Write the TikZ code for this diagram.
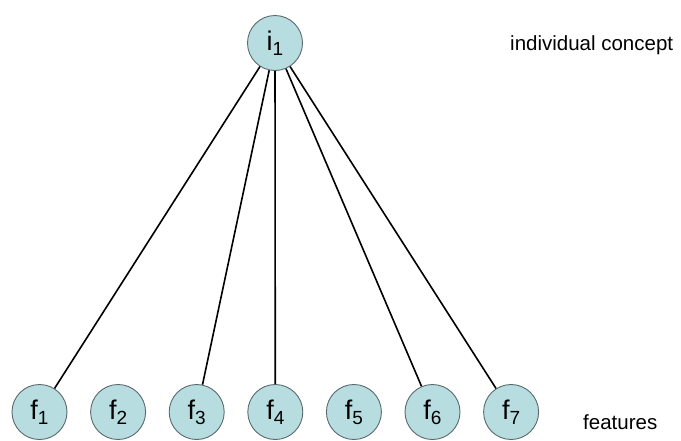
\documentclass[tikz,border=0pt]{standalone}
\usepackage{fontspec}
\setmainfont{Liberation Sans}
\definecolor{nodefill}{RGB}{183,221,224}
\definecolor{nodeedge}{RGB}{90,105,110}
\newcommand{\withsub}[2]{#1\raisebox{-5pt}{\fontsize{19}{19}\selectfont #2}}
\tikzset{
  concept/.style={circle, draw=nodeedge, line width=0.9pt, fill=nodefill,
    minimum size=55pt, inner sep=0pt, font=\fontsize{27}{27}\selectfont},
  link/.style={line width=1.6pt, black},
  caption/.style={anchor=base west, inner sep=0pt, font=\fontsize{20.5}{20.5}\selectfont}
}
\begin{document}
\begin{tikzpicture}[x=1pt, y=-1pt]
  \useasboundingbox (0,0) rectangle (681,440);
  % individual concept on top
  \node[concept] (i1) at (275,43) {\withsub{i}{1}};
  % feature row
  \foreach \k in {1,...,7} {
    \node[concept] (f\k) at ({39.5+78.6*(\k-1)},412) {\withsub{f}{\k}};
  }
  % links from the concept to its features
  \foreach \k in {1,3,4,6,7} {
    \draw[link] (i1) -- (f\k);
  }
  % captions
  \node[caption] (lblind) at (510,50) {individual concept};
  \node[caption] (lblfeat) at (583,429) {features};
\end{tikzpicture}
\end{document}
